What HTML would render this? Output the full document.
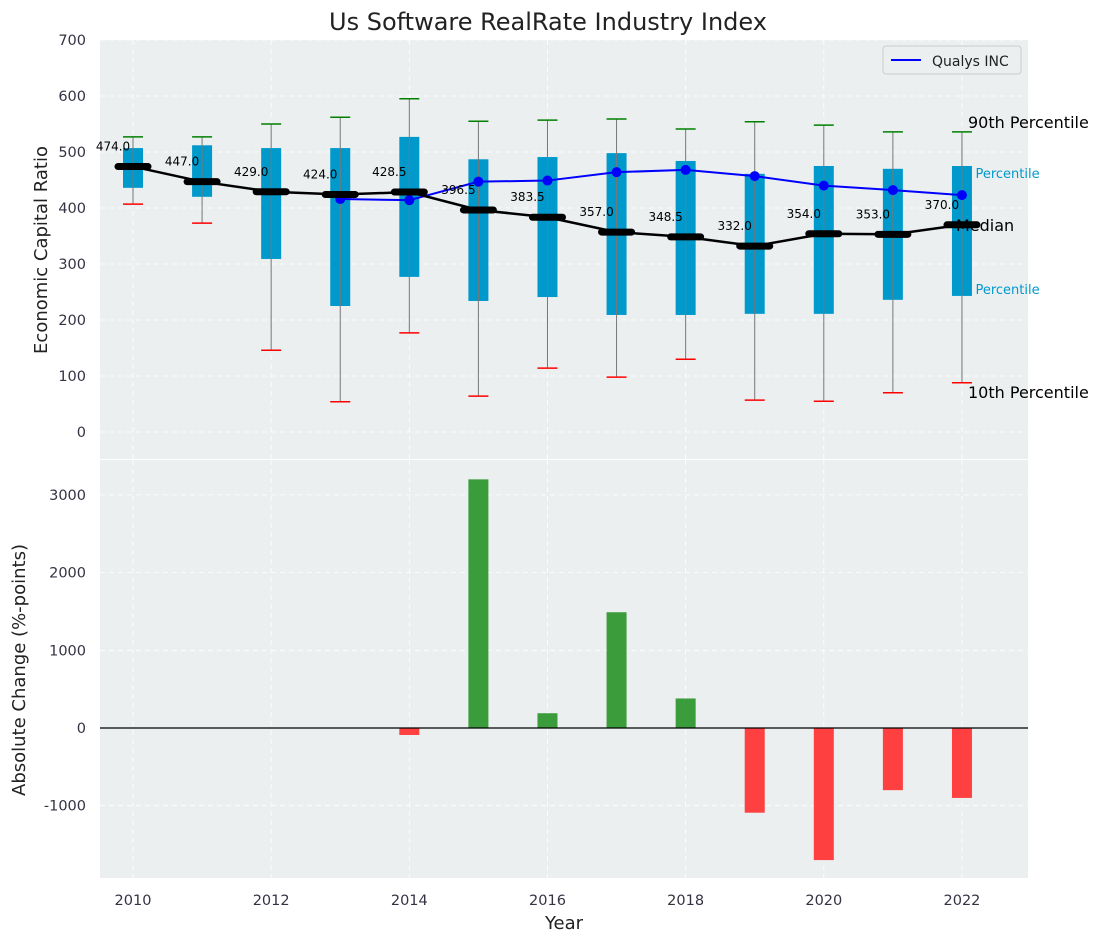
<!DOCTYPE html>
<html><head><meta charset="utf-8"><style>
body{margin:0;background:#fff;font-family:"Liberation Sans","DejaVu Sans",sans-serif}
</style></head><body>
<svg id="c" width="1103" height="942" xmlns="http://www.w3.org/2000/svg" font-family="DejaVu Sans, Liberation Sans, sans-serif">
<text x="548" y="30" text-anchor="middle" font-size="24" fill="#222">Us Software RealRate Industry Index</text>
<rect x="100" y="40" width="928" height="419" fill="#ebeff0"/>
<rect x="100" y="460" width="928" height="418" fill="#ebeff0"/>
<g id="gtop"></g><g id="gbot"></g>
<text x="47" y="250" transform="rotate(-90 47 250)" text-anchor="middle" font-size="18" fill="#222">Economic Capital Ratio</text>
<text x="25" y="670" transform="rotate(-90 25 670)" text-anchor="middle" font-size="18" fill="#222">Absolute Change (%-points)</text>
<text x="564" y="929" text-anchor="middle" font-size="18" fill="#222">Year</text>
<g>
<rect x="883" y="46" width="138" height="28" rx="3" fill="#ebeff0" stroke="#ccc"/>
<line x1="891" y1="60" x2="921" y2="60" stroke="#0000ff" stroke-width="2"/>
<text x="932" y="66" font-size="14" fill="#222">Qualys INC</text>
</g>
</svg>
<script>
const years=[2010,2011,2012,2013,2014,2015,2016,2017,2018,2019,2020,2021,2022];
const p90=[527,527,550,562,595,555,557,559,541,554,548,536,536];
const q3=[507,512,507,507,527,487,491,498,484,461,475,470,475];
const q1=[436,420,309,225,277,234,241,209,209,211,211,236,243];
const p10=[407,373,146,54,177,64,114,98,130,57,55,70,88];
const medians=[474.0,447.0,429.0,424.0,428.5,396.5,383.5,357.0,348.5,332.0,354.0,353.0,370.0];
const qualysYears=[2013,2014,2015,2016,2017,2018,2019,2020,2021,2022];
const qualys=[416,414,447,449,464,468,457,440,432,423];
const changeYears=[2014,2015,2016,2017,2018,2019,2020,2021,2022];
const changes=[-90,3200,190,1490,380,-1090,-1700,-800,-900];
const topTicks=[0,100,200,300,400,500,600,700];
const botTicks=[-1000,0,1000,2000,3000];
const xTicks=[2010,2012,2014,2016,2018,2020,2022];

const NS='http://www.w3.org/2000/svg';
const X=y=>133+(y-2010)*69.08;
const YT=v=>432-v*0.56;
const YB=v=>728-v*0.0777;
function mk(p,t,a){const e=document.createElementNS(NS,t);for(const k in a)e.setAttribute(k,a[k]);p.appendChild(e);return e;}
const gTop=document.getElementById('gtop'),gBot=document.getElementById('gbot');
topTicks.forEach(v=>{mk(gTop,'line',{x1:100,x2:1028,y1:YT(v),y2:YT(v),stroke:'#fff','stroke-dasharray':'5,4','stroke-width':0.8});
 const t=mk(gTop,'text',{x:86,y:YT(v)+5,'text-anchor':'end','font-size':14.5,fill:'#334'});t.textContent=v;
 
 });
botTicks.forEach(v=>{mk(gBot,'line',{x1:100,x2:1028,y1:YB(v),y2:YB(v),stroke:'#fff','stroke-dasharray':'5,4','stroke-width':0.8});
 const t=mk(gBot,'text',{x:86,y:YB(v)+5,'text-anchor':'end','font-size':14.5,fill:'#334'});t.textContent=v;
 
 });
xTicks.forEach(y=>{mk(gTop,'line',{x1:X(y),x2:X(y),y1:40,y2:459,stroke:'#fff','stroke-dasharray':'5,4','stroke-width':0.8});
 mk(gBot,'line',{x1:X(y),x2:X(y),y1:460,y2:878,stroke:'#fff','stroke-dasharray':'5,4','stroke-width':0.8});
 const t=mk(gBot,'text',{x:X(y),y:905,'text-anchor':'middle','font-size':14.5,fill:'#334'});t.textContent=y;
 
 });
years.forEach((y,i)=>{const x=X(y);
 const b=mk(gTop,'rect',{x:x-10,y:YT(q3[i]),width:20,height:YT(q1[i])-YT(q3[i]),fill:'#0099cc'});
 
 
 mk(gTop,'line',{x1:x,x2:x,y1:YT(p90[i]),y2:YT(p10[i]),stroke:'#777','stroke-width':1});
 mk(gTop,'line',{x1:x-10,x2:x+10,y1:YT(p90[i]),y2:YT(p90[i]),stroke:'green','stroke-width':1.5});
 mk(gTop,'line',{x1:x-10,x2:x+10,y1:YT(p10[i]),y2:YT(p10[i]),stroke:'red','stroke-width':1.5});
});
mk(gTop,'polyline',{points:qualysYears.map((y,i)=>X(y)+','+YT(qualys[i])).join(' '),fill:'none',stroke:'#0000ff','stroke-width':2});
qualysYears.forEach((y,i)=>{const c=mk(gTop,'circle',{cx:X(y),cy:YT(qualys[i]),r:5,fill:'#0000ff'});
 
 });
mk(gTop,'polyline',{points:years.map((y,i)=>X(y)+','+YT(medians[i])).join(' '),fill:'none',stroke:'#000','stroke-width':2.5});
years.forEach((y,i)=>{const x=X(y),yy=YT(medians[i]);
 const m=mk(gTop,'line',{x1:x-15,x2:x+15,y1:yy,y2:yy,stroke:'#000','stroke-width':7,'stroke-linecap':'round'});
 
 
 const t=mk(gTop,'text',{x:x-20,y:yy-16,'text-anchor':'middle','font-size':12,fill:'#000'});t.textContent=medians[i].toFixed(1);
 
 });
[['90th Percentile',968,128,16,'#000'],['th Percentile',958,178,13,'#0099cc'],['Median',956,231,16,'#000'],['th Percentile',958,294,13,'#0099cc'],['10th Percentile',968,398,16,'#000']].forEach(a=>{
 const t=mk(gTop,'text',{x:a[1],y:a[2],'font-size':a[3],fill:a[4]});t.textContent=a[0];
 
 });
changeYears.forEach((y,i)=>{const v=changes[i];const y0=YB(Math.max(v,0)),y1=YB(Math.min(v,0));
 const r=mk(gBot,'rect',{x:X(y)-10,y:y0,width:20,height:y1-y0,fill:v>=0?'#3a9c3a':'#ff4040'});
 
 });
mk(gBot,'line',{x1:100,x2:1028,y1:YB(0),y2:YB(0),stroke:'#000','stroke-width':1.2});
</script>
</body></html>
